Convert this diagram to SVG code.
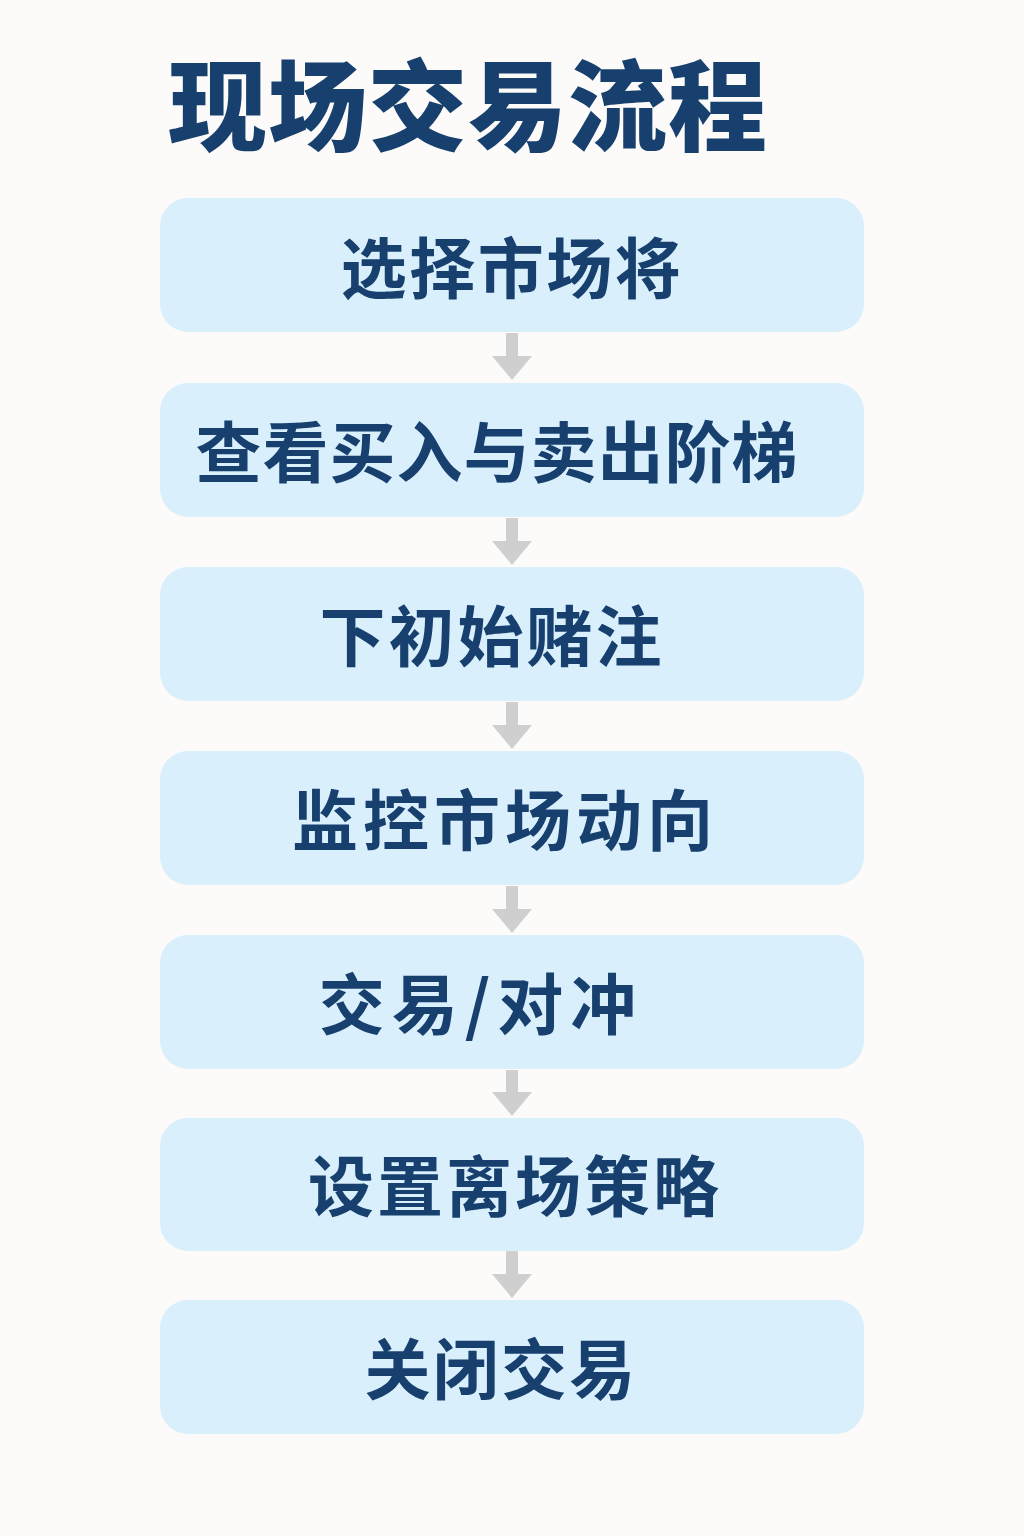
<svg xmlns="http://www.w3.org/2000/svg" width="1024" height="1536" viewBox="0 0 1024 1536">
<defs>
<style>
.bg{fill:#fcfbf9}
.box{fill:#d9effc}
.t{font-family:"Noto Sans CJK SC","Noto Sans",sans-serif;font-weight:700;fill:#17406f;font-size:66px;text-anchor:middle}
.title{font-family:"Noto Sans CJK SC","Noto Sans",sans-serif;font-weight:900;fill:#17406f;font-size:99px;letter-spacing:1px}
.shaft{fill:#cfcfcf}
</style>
</defs>
<rect class="bg" x="0" y="0" width="1024" height="1536"/>
<text class="title" x="168" y="143">现场交易流程</text>
<g id="connectors">
<g><rect class="shaft" x="506" y="333" width="12" height="25"/><polygon class="shaft" points="492,356 532,356 512,380"/></g>
<g><rect class="shaft" x="506" y="518" width="12" height="25"/><polygon class="shaft" points="492,541 532,541 512,565"/></g>
<g><rect class="shaft" x="506" y="702" width="12" height="25"/><polygon class="shaft" points="492,725 532,725 512,749"/></g>
<g><rect class="shaft" x="506" y="886" width="12" height="25"/><polygon class="shaft" points="492,909 532,909 512,933"/></g>
<g><rect class="shaft" x="506" y="1070" width="12" height="24"/><polygon class="shaft" points="492,1092 532,1092 512,1116"/></g>
<g><rect class="shaft" x="506" y="1251" width="12" height="25"/><polygon class="shaft" points="492,1274 532,1274 512,1298"/></g>
</g>
<g id="n1"><rect class="box" x="160" y="198" width="704" height="134" rx="28"/><text class="t" x="512" y="293" style="letter-spacing:2.5px">选择市场将</text></g>
<g id="n2"><rect class="box" x="160" y="383" width="704" height="134" rx="28"/><text class="t" x="497" y="477" style="letter-spacing:1px">查看买入与卖出阶梯</text></g>
<g id="n3"><rect class="box" x="160" y="567" width="704" height="134" rx="28"/><text class="t" x="492" y="661" style="letter-spacing:3px">下初始赌注</text></g>
<g id="n4"><rect class="box" x="160" y="751" width="704" height="134" rx="28"/><text class="t" x="505" y="845" style="letter-spacing:5px">监控市场动向</text></g>
<g id="n5"><rect class="box" x="160" y="935" width="704" height="134" rx="28"/><text class="t" x="481" y="1029" style="letter-spacing:7px">交易/对冲</text></g>
<g id="n6"><rect class="box" x="160" y="1118" width="704" height="133" rx="28"/><text class="t" x="515" y="1211" style="letter-spacing:3px">设置离场策略</text></g>
<g id="n7"><rect class="box" x="160" y="1300" width="704" height="134" rx="28"/><text class="t" x="501" y="1394" style="letter-spacing:2.3px">关闭交易</text></g>
</svg>
